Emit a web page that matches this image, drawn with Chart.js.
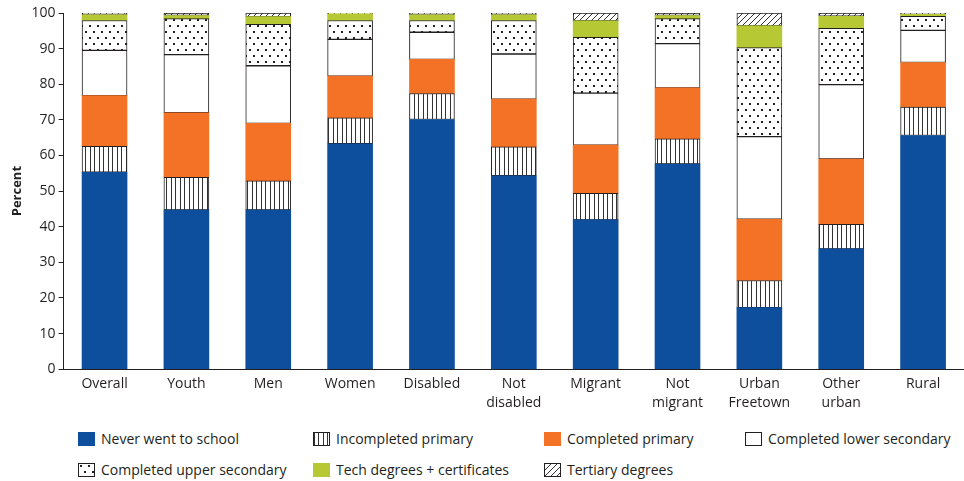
<!DOCTYPE html>
<html>
<head>
<meta charset="utf-8">
<script src="https://cdn.jsdelivr.net/npm/chart.js@4.4.1/dist/chart.umd.min.js"></script>
<style>
  body { margin: 0; background: #fff; font-family: "Open Sans", sans-serif; color: #231f20; }
  #wrap { position: relative; width: 964px; height: 481px; }
  #chart { position: absolute; left: 0; top: 0; }
  .legend-item { position: absolute; display: flex; align-items: center; font-size: 14px; white-space: nowrap; }
  .swatch { width: 17px; height: 14px; box-sizing: border-box; margin-right: 6px; }
</style>
</head>
<body>
<div id="wrap">
  <canvas id="chart" width="964" height="417"></canvas>
  <div id="legend"></div>
</div>
<script>
const categories = [["Overall"], ["Youth"], ["Men"], ["Women"], ["Disabled"], ["Not", "disabled"],
  ["Migrant"], ["Not", "migrant"], ["Urban", "Freetown"], ["Other", "urban"], ["Rural"]];

const seriesNames = ["Never went to school", "Incompleted primary", "Completed primary",
  "Completed lower secondary", "Completed upper secondary", "Tech degrees + certificates", "Tertiary degrees"];

const neverWent  = [55.3, 44.7, 44.7, 63.3, 70.1, 54.3, 41.9, 57.6, 17.3, 33.8, 65.6];
const incPrimary = [7.3, 9.2, 8.2, 7.3, 7.3, 8.1, 7.5, 7.1, 7.6, 6.9, 8.0];
const compPrimary = [14.2, 18.1, 16.1, 11.7, 9.6, 13.4, 13.5, 14.3, 17.2, 18.3, 12.5];
const lowerSec   = [12.7, 16.3, 16.2, 10.3, 7.6, 12.7, 14.6, 12.4, 23.2, 20.9, 9.0];
const upperSec   = [8.4, 10.1, 11.6, 5.3, 3.3, 9.4, 15.7, 7.0, 25.0, 15.8, 4.0];
const techCert   = [1.6, 0.9, 2.2, 1.9, 1.6, 1.6, 4.6, 0.9, 6.1, 3.4, 0.5];
const tertiary   = [0.5, 0.7, 1.0, 0.2, 0.5, 0.5, 2.2, 0.7, 3.6, 0.9, 0.4];

const yTicks = { min: 0, max: 100, step: 10 };

const INK = "#231f20";

// pattern tiles
function makeTile(kind) {
  const c = document.createElement("canvas");
  const ctx = c.getContext("2d");
  if (kind === "vlines") {
    c.width = 9; c.height = 4;
    ctx.fillStyle = "#fff"; ctx.fillRect(0, 0, 9, 4);
    ctx.fillStyle = "#333";
    ctx.fillRect(0, 0, 1, 4);
    ctx.fillRect(4, 0, 1, 4);
  } else if (kind === "dots") {
    c.width = 8; c.height = 12;
    ctx.fillStyle = "#fff"; ctx.fillRect(0, 0, 8, 12);
    ctx.fillStyle = "#222";
    ctx.fillRect(1, 1, 2, 2);
    ctx.fillRect(5, 7, 2, 2);
  } else if (kind === "hatch") {
    c.width = 6; c.height = 6;
    ctx.fillStyle = "#fff"; ctx.fillRect(0, 0, 6, 6);
    ctx.strokeStyle = "#333"; ctx.lineWidth = 1;
    ctx.beginPath();
    ctx.moveTo(-1, 7); ctx.lineTo(7, -1);
    ctx.moveTo(-1, 1); ctx.lineTo(1, -1);
    ctx.moveTo(5, 7); ctx.lineTo(7, 5);
    ctx.stroke();
  }
  return c;
}

const tiles = { vlines: makeTile("vlines"), dots: makeTile("dots"), hatch: makeTile("hatch") };
const ctx = document.getElementById("chart").getContext("2d");
const pat = k => ctx.createPattern(tiles[k], "repeat");

const styles = [
  { fill: "#0d4f9c", css: "#0d4f9c", border: 0 },
  { fill: pat("vlines"), tile: "vlines", border: 1 },
  { fill: "#f37226", css: "#f37226", border: 0 },
  { fill: "#ffffff", css: "#ffffff", border: 1 },
  { fill: pat("dots"), tile: "dots", border: 1 },
  { fill: "#b6c934", css: "#b6c934", border: 0 },
  { fill: pat("hatch"), tile: "hatch", border: 1 }
];

const seriesData = [neverWent, incPrimary, compPrimary, lowerSec, upperSec, techCert, tertiary];

const datasets = seriesData.map((values, i) => ({
  label: seriesNames[i],
  data: values,
  backgroundColor: styles[i].fill,
  borderColor: INK,
  borderWidth: styles[i].border,
  borderSkipped: false,
  barThickness: 45
}));

new Chart(ctx, {
  type: "bar",
  data: { labels: categories, datasets: datasets },
  options: {
    responsive: false,
    animation: false,
    devicePixelRatio: 1,
    layout: { padding: { left: 9, top: 13, right: 0, bottom: 0 } },
    plugins: { legend: { display: false }, tooltip: { enabled: false } },
    scales: {
      x: {
        stacked: true,
        grid: { display: false, drawTicks: false, tickLength: 0 },
        border: { display: true, color: INK, width: 1 },
        ticks: {
          color: INK,
          autoSkip: false,
          maxRotation: 0,
          padding: 5,
          font: { family: "Open Sans", size: 14, lineHeight: 1.35 }
        }
      },
      y: {
        stacked: true,
        min: yTicks.min,
        max: yTicks.max,
        grid: { drawOnChartArea: false, drawTicks: true, tickLength: 5, color: INK },
        border: { display: true, color: INK, width: 1 },
        ticks: {
          stepSize: yTicks.step,
          color: INK,
          padding: 3,
          font: { family: "Open Sans", size: 14 }
        },
        title: {
          display: true,
          text: "Percent",
          color: INK,
          padding: { top: 0, bottom: 4 },
          font: { family: "Open Sans", size: 13, weight: "bold" }
        }
      }
    }
  }
});

// legend (two rows, four columns)
const legendSlots = [[78, 429], [313, 429], [544, 429], [745, 429], [78, 460], [313, 460], [544, 460]];
const legendEl = document.getElementById("legend");
seriesNames.forEach((name, i) => {
  const item = document.createElement("div");
  item.className = "legend-item";
  item.style.left = legendSlots[i][0] + "px";
  item.style.top = legendSlots[i][1] + "px";
  const sw = document.createElement("span");
  sw.className = "swatch";
  if (styles[i].tile) {
    sw.style.backgroundImage = "url(" + tiles[styles[i].tile].toDataURL() + ")";
  } else {
    sw.style.background = styles[i].css;
  }
  if (styles[i].border) sw.style.border = "1px solid " + INK;
  item.appendChild(sw);
  const label = document.createElement("span");
  label.textContent = name;
  item.appendChild(label);
  legendEl.appendChild(item);
});
</script>
</body>
</html>
